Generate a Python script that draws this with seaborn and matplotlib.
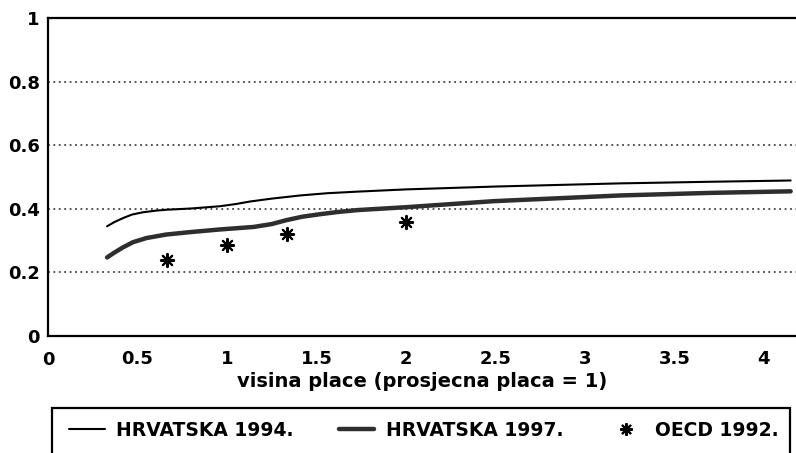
import pandas as pd
import matplotlib.pyplot as plt
import seaborn as sns
from matplotlib.lines import Line2D
from matplotlib.patches import Rectangle

# podaci ocitani sa slike
x_1994 = [0.33, 0.37, 0.42, 0.47, 0.53, 0.60, 0.66, 0.80, 0.96, 1.05, 1.13, 1.25, 1.41,
          1.56, 1.73, 2.00, 2.50, 3.20, 3.70, 4.15]
y_1994 = [0.345, 0.358, 0.371, 0.382, 0.389, 0.394, 0.397, 0.401, 0.408, 0.415, 0.423,
          0.432, 0.442, 0.449, 0.454, 0.461, 0.470, 0.480, 0.485, 0.489]

x_1997 = [0.33, 0.37, 0.42, 0.475, 0.55, 0.66, 0.80, 0.96, 1.15, 1.25, 1.33, 1.42, 1.52,
          1.62, 1.73, 2.00, 2.49, 3.20, 3.70, 4.15]
y_1997 = [0.247, 0.262, 0.279, 0.295, 0.308, 0.319, 0.327, 0.335, 0.343, 0.352, 0.364,
          0.375, 0.383, 0.390, 0.396, 0.405, 0.424, 0.442, 0.450, 0.455]

x_oecd = [0.667, 1.0, 1.333, 2.0]
y_oecd = [0.239, 0.286, 0.320, 0.359]

x_ticks = [0.5, 1, 1.5, 2, 2.5, 3, 3.5, 4]
y_ticks = [0, 0.2, 0.4, 0.6, 0.8, 1]

df94 = pd.DataFrame({'x': x_1994, 'y': y_1994})
df97 = pd.DataFrame({'x': x_1997, 'y': y_1997})
dfo = pd.DataFrame({'x': x_oecd, 'y': y_oecd})

sns.set_theme(style="white")
plt.rcParams['font.family'] = ['DejaVu Sans']
plt.rcParams['font.weight'] = 'bold'
plt.rcParams['text.color'] = 'black'

W, H = 796, 453
fig = plt.figure(figsize=(W / 100, H / 100), dpi=100)
ax = fig.add_axes([48 / W, 1 - 336 / H, (W - 48) / W, 318 / H])

sns.lineplot(data=df94, x='x', y='y', color='black', linewidth=1.5, ax=ax)
sns.lineplot(data=df97, x='x', y='y', color='#2e2e2e', linewidth=3.2, ax=ax)
sns.scatterplot(data=dfo, x='x', y='y', marker=(8, 2, 0), s=90, color='black',
                linewidth=1.5, ax=ax, zorder=4)

ax.set_xlim(0, 4.18)
ax.set_ylim(0, 1)
ax.set_xticks(x_ticks)
ax.set_yticks(y_ticks)
ax.set_xticklabels(['0.5', '1', '1.5', '2', '2.5', '3', '3.5', '4'])
ax.set_yticklabels(['0', '0.2', '0.4', '0.6', '0.8', '1'])
ax.tick_params(axis='x', direction='in', length=5, width=1.5, pad=10,
               labelsize=13, colors='black')
ax.tick_params(axis='y', length=0, pad=6, labelsize=13, colors='black')
for lab in ax.get_xticklabels() + ax.get_yticklabels():
    lab.set_fontweight('bold')

# oznaka 0 na x osi
ax.text(0, -0.047, '0', transform=ax.get_xaxis_transform(), ha='center', va='top',
        fontsize=13, fontweight='bold', color='black')

ax.grid(False)
for yy in [0.2, 0.4, 0.6, 0.8]:
    ax.axhline(yy, color='#444444', linewidth=1.3, linestyle=(0, (1, 2)), zorder=0)

for s in ['left', 'bottom', 'top']:
    ax.spines[s].set_color('black')
    ax.spines[s].set_linewidth(1.6)
ax.spines['right'].set_visible(False)

ax.set_xlabel('visina place (prosjecna placa = 1)', fontsize=14, fontweight='bold',
              labelpad=3, color='black')
ax.set_ylabel('')

# legenda
handles = [Line2D([], [], color='black', linewidth=1.5),
           Line2D([], [], color='#2e2e2e', linewidth=3.2),
           Line2D([], [], color='black', linestyle='none', marker=(8, 2, 0),
                  markersize=9, markeredgewidth=1.5)]
labels = ['HRVATSKA 1994.', 'HRVATSKA 1997.', 'OECD 1992.']
fig.legend(handles, labels, loc='center', bbox_to_anchor=(424 / W, 1 - 430 / H),
           ncol=3, frameon=False, handlelength=1.9, handletextpad=0.6,
           columnspacing=2.4, labelcolor='black',
           prop={'size': 13.5, 'weight': 'bold'})
fig.add_artist(Rectangle((52 / W, -0.1), (790 - 52) / W, (1 - 408 / H) + 0.1,
                         transform=fig.transFigure, fill=False, edgecolor='black',
                         linewidth=1.6, clip_on=False))

plt.savefig('out.png', dpi=100)
